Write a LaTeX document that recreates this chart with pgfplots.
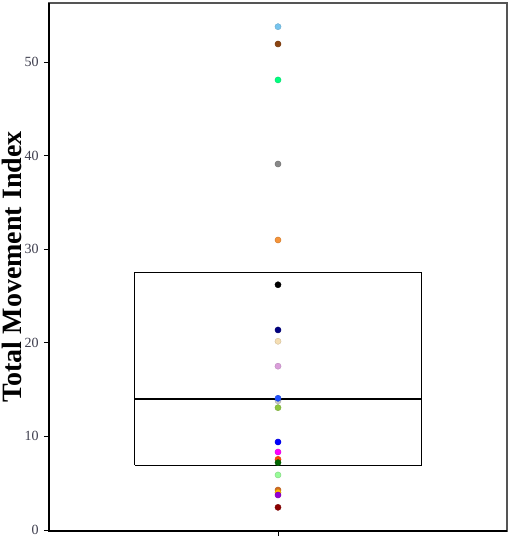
\documentclass[border=0pt]{standalone}
\usepackage{pgfplots}
\pgfplotsset{compat=1.18}
\usepackage{fontspec}
\setmainfont{Liberation Serif}
\definecolor{tickgray}{HTML}{3D3D4D}
\definecolor{framegray}{HTML}{555555}
\newcommand{\pt}[2]{\addplot[only marks, mark=*, mark size=2.3pt, draw=#1!85!black, fill=#1, line width=0.3pt] coordinates {(1,#2)};}
\definecolor{c1}{HTML}{76C4EE}
\definecolor{c2}{HTML}{8B4513}
\definecolor{c3}{HTML}{00FF7F}
\definecolor{c4}{HTML}{888888}
\definecolor{c5}{HTML}{F5943A}
\definecolor{c6}{HTML}{000000}
\definecolor{c7}{HTML}{000080}
\definecolor{c8}{HTML}{F5DEB3}
\definecolor{c9}{HTML}{DA9EDA}
\definecolor{c10}{HTML}{C8C8C8}
\definecolor{c11}{HTML}{2050FF}
\definecolor{c12}{HTML}{8DC63F}
\definecolor{c13}{HTML}{0000FF}
\definecolor{c14}{HTML}{FF00FF}
\definecolor{c15}{HTML}{FF4500}
\definecolor{c16}{HTML}{006400}
\definecolor{c17}{HTML}{98FB98}
\definecolor{c18}{HTML}{D2691E}
\definecolor{c19}{HTML}{FFC000}
\definecolor{c20}{HTML}{9400D3}
\definecolor{c21}{HTML}{8B0000}
\begin{document}
\begin{tikzpicture}
\path[use as bounding box] (-36.75pt,-5.25pt) rectangle (345.75pt,398.25pt);
\begin{axis}[
  scale only axis,
  width=343.5pt, height=396pt,
  xmin=0.4, xmax=1.6, ymin=-0.107, ymax=56.3,
  xtick={1}, xticklabels={},
  ytick={0,10,20,30,40,50},
  tick align=outside,
  xtick pos=bottom, ytick pos=left,
  major tick length=3.75pt,
  tick style={black, line width=0.6pt},
  axis line style={framegray, line width=0.9pt},
  yticklabel style={font=\fontsize{10.5}{11}\selectfont, text=tickgray, xshift=-0.5pt},
  /pgf/number format/assume math mode=true,
  ylabel={Total Movement Index},
  ylabel style={font=\fontsize{21}{24}\selectfont\bfseries, at={(axis description cs:-0.081,0.5)}, anchor=center},
  clip=false,
]
\addplot[black, line width=0.75pt] coordinates {(0.625,6.94) (1.375,6.94) (1.375,27.46) (0.625,27.46) (0.625,6.94)};
\addplot[black, line width=1.5pt] coordinates {(0.625,13.97) (1.375,13.97)};
\pt{c1}{53.77}
\pt{c2}{51.92}
\pt{c3}{48.08}
\pt{c4}{39.1}
\pt{c5}{30.98}
\pt{c6}{26.2}
\pt{c7}{21.37}
\pt{c8}{20.16}
\pt{c9}{17.5}
\pt{c10}{13.8}
\pt{c11}{14.07}
\pt{c12}{13.07}
\pt{c13}{9.4}
\pt{c14}{8.33}
\pt{c15}{7.55}
\pt{c16}{7.2}
\pt{c17}{5.88}
\pt{c18}{4.27}
\pt{c19}{4.0}
\pt{c20}{3.74}
\pt{c21}{2.42}
\draw[black, line width=0.9pt] (rel axis cs:0,1) -- (rel axis cs:0,0) -- (rel axis cs:1,0);
\end{axis}
\end{tikzpicture}
\end{document}
